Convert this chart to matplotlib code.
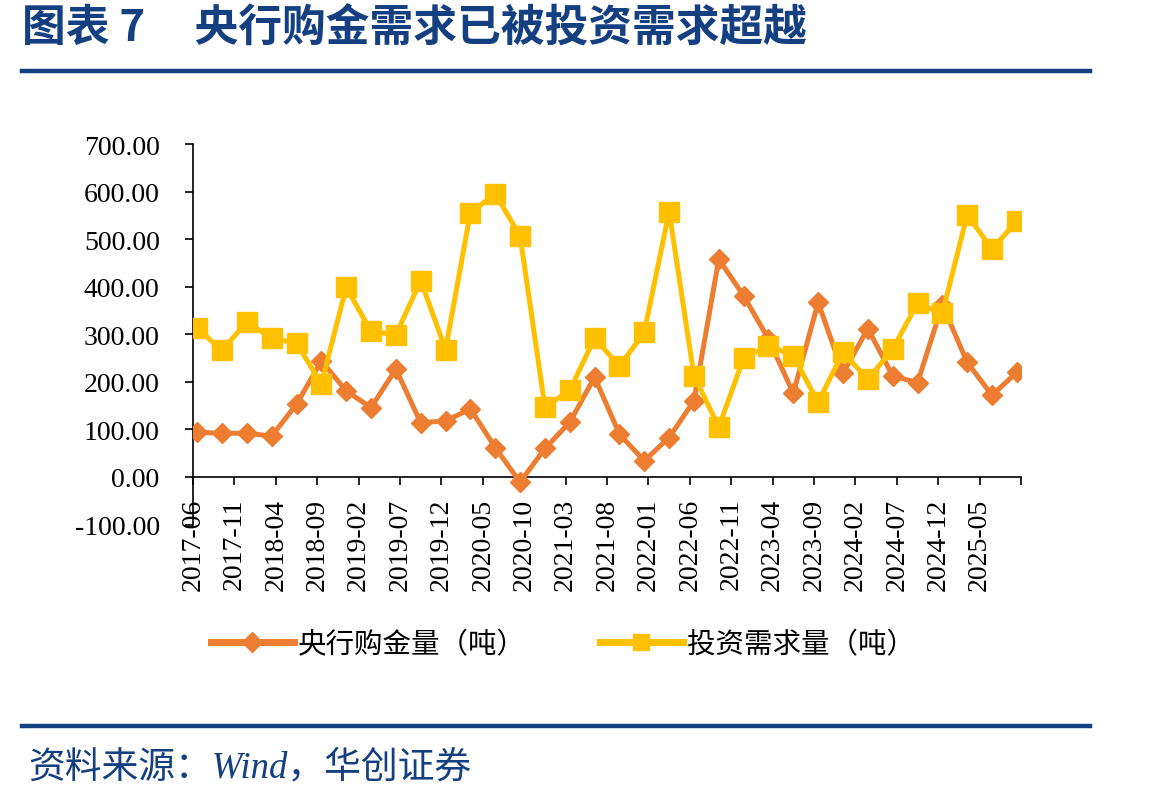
import numpy as np
import matplotlib
matplotlib.use("Agg")
import matplotlib.pyplot as plt
from matplotlib.lines import Line2D

# %% Data

quarters = ["2017-06", "2017-09", "2017-12", "2018-03", "2018-06", "2018-09",
            "2018-12", "2019-03", "2019-06", "2019-09", "2019-12", "2020-03",
            "2020-06", "2020-09", "2020-12", "2021-03", "2021-06", "2021-09",
            "2021-12", "2022-03", "2022-06", "2022-09", "2022-12", "2023-03",
            "2023-06", "2023-09", "2023-12", "2024-03", "2024-06", "2024-09",
            "2024-12", "2025-03", "2025-06", "2025-09"]
cb_gold = [94, 92, 92, 86, 153, 244, 181, 146, 227, 114, 118, 143, 62, -11,
           60, 115, 210, 90, 34, 83, 160, 458, 381, 290, 176, 367, 218, 312,
           213, 198, 362, 241, 172, 220]
invest = [313, 266, 326, 292, 281, 196, 399, 306, 299, 413, 268, 556, 595,
          507, 147, 182, 292, 233, 304, 558, 213, 105, 250, 276, 255, 157,
          262, 205, 269, 365, 344, 551, 479, 538]
tick_labels = ["2017-06", "2017-11", "2018-04", "2018-09", "2019-02",
               "2019-07", "2019-12", "2020-05", "2020-10", "2021-03",
               "2021-08", "2022-01", "2022-06", "2022-11", "2023-04",
               "2023-09", "2024-02", "2024-07", "2024-12", "2025-05"]
cb_label = "央行购金量（吨）"
inv_label = "投资需求量（吨）"
title = "图表 7     央行购金需求已被投资需求超越"
source = "资料来源：Wind，华创证券"


def month_index(s):
    """Months since 2017-06."""
    y, m = s.split("-")
    return (int(y) - 2017) * 12 + int(m) - 6


# %% Styling

blue = "#143F80"
orange = "#ED7D31"
yellow = "#FFC000"
serif = ["Liberation Serif", "Noto Sans CJK SC"]
cjk = ["Noto Sans CJK SC", "DejaVu Sans"]

# points sit in the middle of their month slot
x = np.array([month_index(q) for q in quarters]) + 0.5
tick_x = [month_index(t) for t in tick_labels]

fig = plt.figure(figsize=(11.49, 8.03), dpi=100)
ax = fig.add_axes([0.168, 0.3455, 0.7206, 0.4739])

ax.plot(x, cb_gold, color=orange, lw=3.6, marker="D", ms=10,
        solid_joinstyle="miter", label=cb_label, zorder=3)
ax.plot(x, invest, color=yellow, lw=3.6, marker="s", ms=15,
        solid_joinstyle="miter", label=inv_label, zorder=4)

# spine position first, it resets the ticks
ax.spines["top"].set_visible(False)
ax.spines["right"].set_visible(False)
ax.spines["bottom"].set_position(("data", 0))
for s in ["left", "bottom"]:
    ax.spines[s].set_linewidth(1.2)

ax.set_xlim(0, 100)
ax.set_ylim(-100, 700)
ax.set_yticks(np.arange(-100, 701, 100))
ax.set_yticklabels(["%.2f" % v for v in np.arange(-100, 701, 100)],
                   family=serif, fontsize=20)
ax.set_xticks(tick_x + [100])
ax.set_xticklabels(tick_labels + [""], rotation=90, family=serif, fontsize=20)
ax.tick_params(axis="y", direction="out", length=6, width=1.2, pad=18)
ax.tick_params(axis="x", direction="out", length=6, width=1.2, pad=9)

# legend
handles = [
    Line2D([], [], color=orange, lw=5, marker="D", ms=10),
    Line2D([], [], color=yellow, lw=5, marker="s", ms=12),
]
fig.legend(handles, [cb_label, inv_label], loc="center",
           bbox_to_anchor=(0.49, 0.197), ncol=2, frameon=False,
           prop={"family": cjk, "size": 20.5}, handlelength=2.9,
           handletextpad=0.15, columnspacing=2.6)

# title, rules and source
fig.text(22 / 1149, 0.965, title, color=blue, fontsize=31.5, fontweight="bold",
         family=cjk, va="center", ha="left")
fig.add_artist(Line2D([22 / 1149, 1090 / 1149], [1 - 72 / 803] * 2,
                      color=blue, lw=3.2, transform=fig.transFigure))
fig.add_artist(Line2D([22 / 1149, 1090 / 1149], [1 - 727 / 803] * 2,
                      color=blue, lw=3.2, transform=fig.transFigure))
fig.text(28 / 1149, 1 - 768 / 803, source, color=blue, fontsize=26.5,
         style="italic", family=serif, va="center", ha="left")

fig.savefig("out.png", dpi=100)
